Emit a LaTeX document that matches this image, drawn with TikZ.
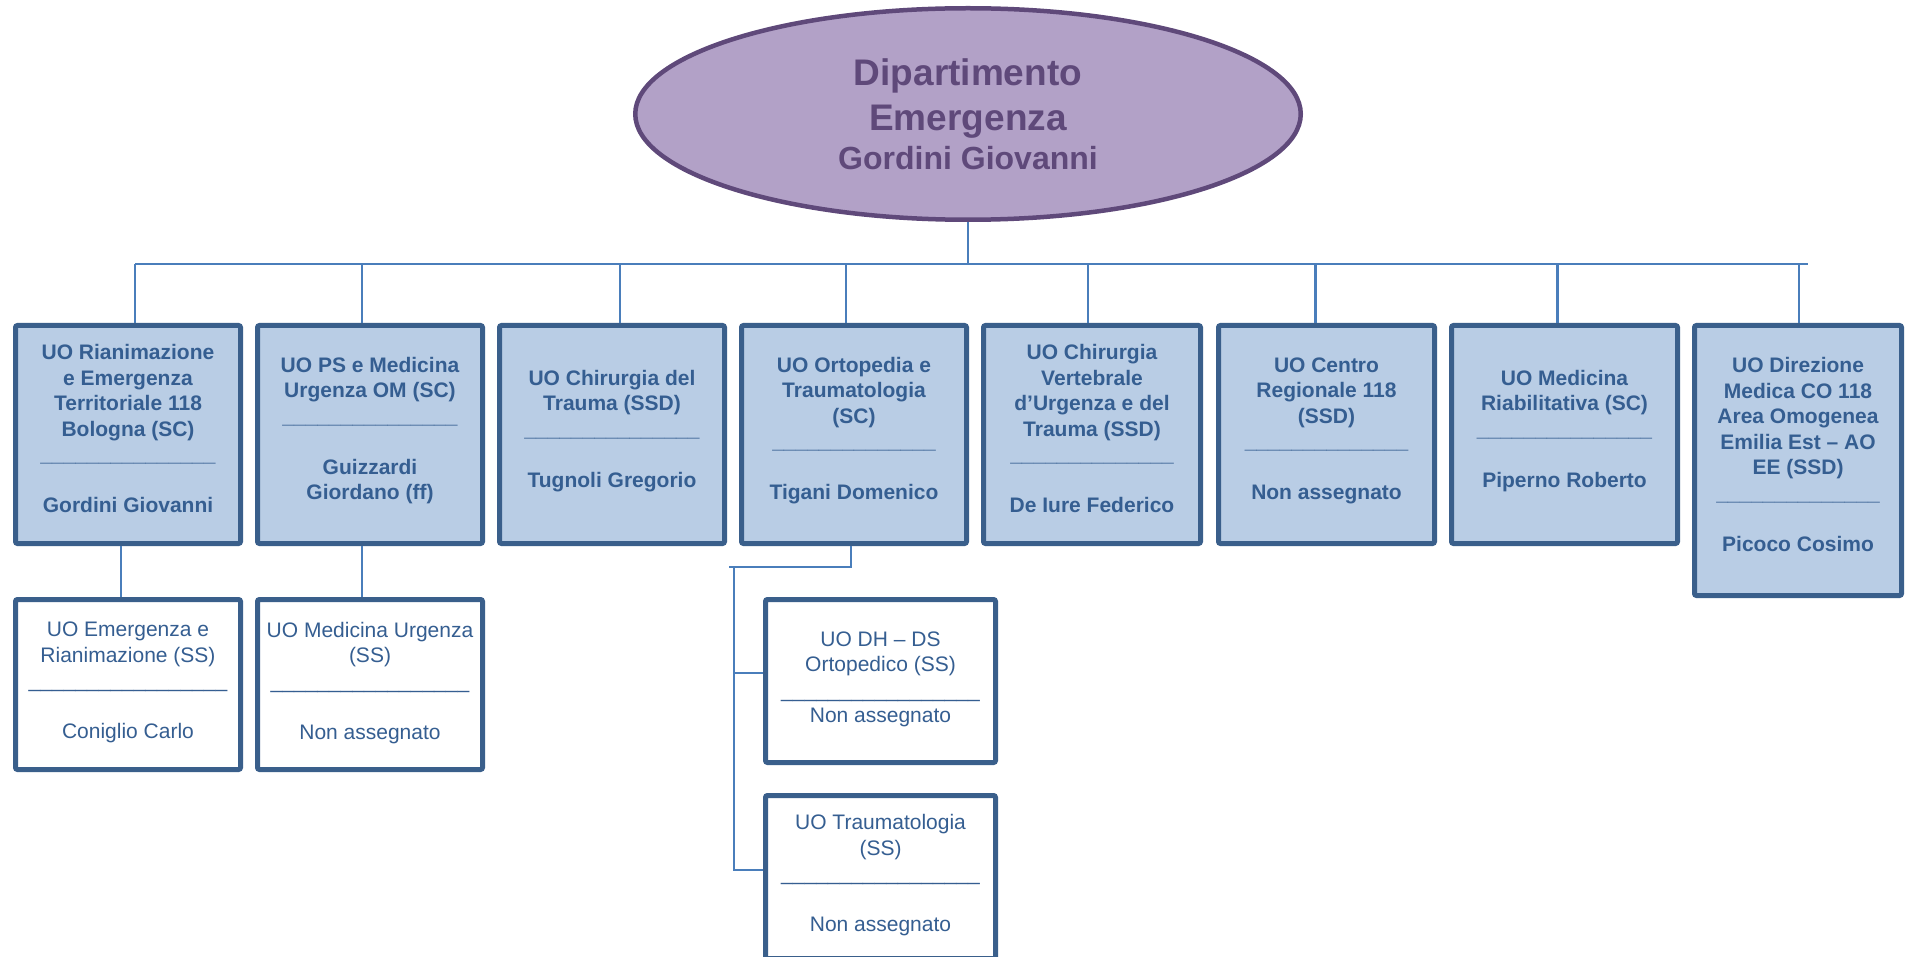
\documentclass[tikz,border=0pt]{standalone}
\usepackage{fontspec}
\setmainfont{Liberation Sans}
\usetikzlibrary{shapes.geometric,calc}
\definecolor{boxfill}{HTML}{B9CDE5}
\definecolor{boxborder}{HTML}{3A5F8B}
\definecolor{textblue}{HTML}{355E91}
\definecolor{lineblue}{HTML}{4A7EBB}
\definecolor{deptfill}{HTML}{B2A1C7}
\definecolor{deptborder}{HTML}{5F497A}
\def\uu{\_\_\_\_\_}
\newcommand\sepA{\uu\uu\uu}
\newcommand\sepB{\uu\uu\_\_\_\_}
\newcommand\sepC{\uu\uu\uu\_\_}
\newcommand\deepA{\rule[-12pt]{0pt}{0pt}}
\newcommand\deepB{\rule[-8pt]{0pt}{0pt}}
\begin{document}
\begin{tikzpicture}[x=1pt,y=-1pt,
  unitbox/.style={draw=boxborder, line width=5pt, fill=boxfill, rounded corners=2pt,
    align=center, text=textblue, inner sep=0pt,
    font=\bfseries\fontsize{21}{25.5}\selectfont, minimum height=218pt},
  subbox/.style={draw=boxborder, line width=5pt, fill=white, rounded corners=2pt,
    align=center, text=textblue, inner sep=0pt,
    font=\fontsize{21}{25.5}\selectfont},
  conn/.style={draw=lineblue, line width=2.5pt}]
\useasboundingbox (0,0) rectangle (1906,957);

\node[ellipse, draw=deptborder, line width=4.5pt, fill=deptfill, inner sep=0pt,
  minimum width=665.5pt, minimum height=211.5pt, align=center, text=deptborder,
  font=\bfseries\fontsize{37}{45}\selectfont] (dept) at (968,114)
  {Dipartimento\\Emergenza\\[-6pt]{\fontsize{32}{39}\selectfont Gordini Giovanni}};

\node[unitbox, minimum width=225pt] (b1) at (128,434.5)
  {UO Rianimazione\\e Emergenza\\Territoriale 118\\Bologna (SC)\\\sepA\\[25.5pt]Gordini Giovanni\deepA};
\node[unitbox, minimum width=225pt] (b2) at (370,434.5)
  {UO PS e Medicina\\Urgenza OM (SC)\\\sepA\\[25.5pt]Guizzardi\\Giordano (ff)\deepA};
\node[unitbox, minimum width=225pt] (b3) at (612,434.5)
  {UO Chirurgia del\\Trauma (SSD)\\\sepA\\[25.5pt]Tugnoli Gregorio\deepA};
\node[unitbox, minimum width=225pt] (b4) at (854,434.5)
  {UO Ortopedia e\\Traumatologia\\(SC)\\\sepB\\[25.5pt]Tigani Domenico\deepA};
\node[unitbox, minimum width=217pt] (b5) at (1092,434.5)
  {UO Chirurgia\\Vertebrale\\d’Urgenza e del\\Trauma (SSD)\\\sepB\\[25.5pt]De Iure Federico\deepA};
\node[unitbox, minimum width=216pt] (b6) at (1326.5,434.5)
  {UO Centro\\Regionale 118\\(SSD)\\\sepB\\[25.5pt]Non assegnato\deepA};
\node[unitbox, minimum width=226pt] (b7) at (1564.5,434.5)
  {UO Medicina\\Riabilitativa (SC)\\\sepA\\[25.5pt]Piperno Roberto\deepA};
\node[unitbox, minimum width=207pt, minimum height=270pt] (b8) at (1798,460.5)
  {UO Direzione\\Medica CO 118\\Area Omogenea\\Emilia Est – AO\\EE (SSD)\\\sepB\\[25.5pt]Picoco Cosimo\deepA};

\node[subbox, minimum width=225pt, minimum height=170pt] (ss1) at (128,684.5)
  {UO Emergenza e\\Rianimazione (SS)\\\sepC\\[25.5pt]Coniglio Carlo\deepB};
\node[subbox, minimum width=225pt, minimum height=170pt] (ss2) at (370,684.5)
  {UO Medicina Urgenza\\(SS)\\\sepC\\[25.5pt]Non assegnato\deepB};
\node[subbox, minimum width=230pt, minimum height=163pt] (ss3) at (880.5,681)
  {UO DH – DS\\Ortopedico (SS)\\\sepC\\Non assegnato\deepB};
\node[subbox, minimum width=230pt, minimum height=163pt] (ss4) at (880.5,877)
  {UO Traumatologia\\(SS)\\\sepC\\[25.5pt]Non assegnato\deepB};

% bus
\coordinate (busL) at (135,264);
\coordinate (busR) at (1808,264);
\draw[conn] (dept.south) -- (dept.south |- busL);
\draw[conn] (busL) -- (busR);
\path ([xshift=7pt]b1.north) coordinate (t1)
      ([xshift=-8pt]b2.north) coordinate (t2)
      ([xshift=8pt]b3.north) coordinate (t3)
      ([xshift=-8pt]b4.north) coordinate (t4)
      ([xshift=-4pt]b5.north) coordinate (t5)
      ([xshift=-11pt]b6.north) coordinate (t6)
      ([xshift=-7pt]b7.north) coordinate (t7)
      ([xshift=1pt]b8.north) coordinate (t8);
\foreach \t in {t1,t2,t3,t4,t5,t6,t7,t8}
  \draw[conn] (\t) -- (\t |- busL);

% second level
\draw[conn] ([xshift=-7pt]b1.south) -- ([xshift=-7pt]ss1.north);
\draw[conn] ([xshift=-8pt]b2.south) -- ([xshift=-8pt]ss2.north);

\coordinate (oj) at (734,567);
\coordinate (ojl) at (729,567);
\path ([xshift=-3pt]b4.south) coordinate (t4s)
      ([yshift=8pt]ss3.west) coordinate (s3w)
      ([yshift=7pt]ss4.west) coordinate (s4w);
\draw[conn] (t4s) |- (ojl);
\draw[conn] (oj) |- (s4w);
\draw[conn] (s3w) -- (s3w -| oj);
\end{tikzpicture}
\end{document}
